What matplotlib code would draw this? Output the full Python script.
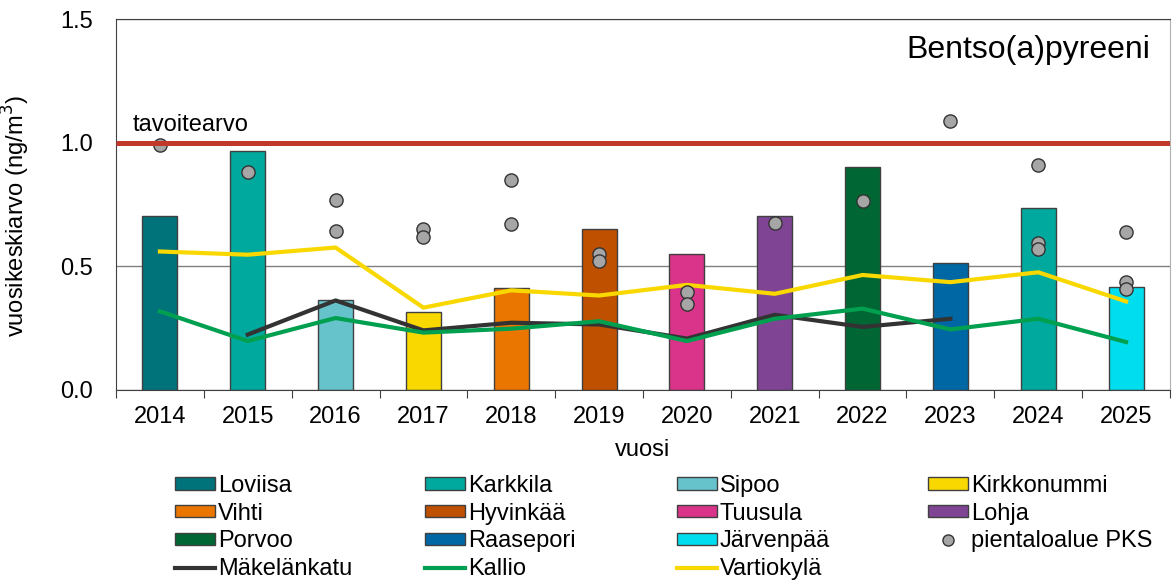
import numpy as np
import matplotlib.pyplot as plt
from matplotlib.patches import Patch
from matplotlib.lines import Line2D

plt.rcParams['font.family'] = ['Liberation Sans', 'DejaVu Sans']

years = ['2014', '2015', '2016', '2017', '2018', '2019', '2020', '2021', '2022', '2023', '2024', '2025']

# yearly mean at the rotating measurement site
bar_sites = ['Loviisa', 'Karkkila', 'Sipoo', 'Kirkkonummi', 'Vihti', 'Hyvinkää',
             'Tuusula', 'Lohja', 'Porvoo', 'Raasepori', 'Karkkila', 'Järvenpää']
bar_values = [0.704, 0.968, 0.362, 0.315, 0.413, 0.652, 0.551, 0.703, 0.901, 0.515, 0.737, 0.416]

site_colors = {
    'Loviisa': '#00727A', 'Karkkila': '#00A99D', 'Sipoo': '#66C2CB',
    'Kirkkonummi': '#F9D800', 'Vihti': '#EA7600', 'Hyvinkää': '#BE5000',
    'Tuusula': '#D9338A', 'Lohja': '#7F4594', 'Porvoo': '#006633',
    'Raasepori': '#0067A5', 'Järvenpää': '#00DDEE',
}

# detached house areas in the capital region (several per year)
pks_years = [2014, 2015, 2016, 2016, 2017, 2017, 2018, 2018, 2019, 2019, 2020, 2020,
             2021, 2022, 2023, 2024, 2024, 2024, 2025, 2025, 2025]
pks_values = [0.99, 0.881, 0.767, 0.644, 0.650, 0.617, 0.849, 0.672, 0.550, 0.523, 0.395, 0.349,
              0.677, 0.763, 1.087, 0.910, 0.593, 0.570, 0.637, 0.438, 0.407]

makelankatu = [np.nan, 0.224, 0.362, 0.241, 0.272, 0.265, 0.208, 0.304, 0.255, 0.288, np.nan, np.nan]
kallio = [0.318, 0.198, 0.291, 0.232, 0.248, 0.278, 0.198, 0.288, 0.329, 0.245, 0.288, 0.194]
vartiokyla = [0.560, 0.547, 0.576, 0.333, 0.403, 0.382, 0.425, 0.389, 0.465, 0.436, 0.476, 0.358]

target = 1.0
FS = 17

fig = plt.figure(figsize=(11.72, 5.8), dpi=100)
ax = fig.add_axes([116 / 1172, 1 - 390 / 580, 1054 / 1172, 371 / 580])

x = np.arange(len(years))
ax.bar(x, bar_values, width=0.4, color=[site_colors[s] for s in bar_sites],
       edgecolor='#404040', linewidth=1, zorder=2)

ax.plot(x, makelankatu, color='#333333', lw=3, zorder=3)
ax.plot(x, kallio, color='#00A050', lw=3, zorder=3)
ax.plot(x, vartiokyla, color='#F9D800', lw=3, zorder=3)

pks_x = [years.index(str(y)) for y in pks_years]
ax.plot(pks_x, pks_values, 'o', ms=9.5, mfc='#A6A6A6', mec='#333333', mew=1, zorder=4)

ax.plot([-0.5, 11.5], [target, target], color='#C0392B', lw=3.6, zorder=5, solid_capstyle='butt')
ax.text(-0.306, 1.046, 'tavoitearvo', fontsize=FS, va='baseline', ha='left')
ax.text(0.981, 0.895, 'Bentso(a)pyreeni', transform=ax.transAxes, fontsize=23,
        ha='right', va='baseline')

ax.set_xlim(-0.5, 11.5)
ax.set_ylim(0, 1.5)
ax.set_yticks([0, 0.5, 1.0, 1.5])
ax.set_yticklabels(['0.0', '0.5', '1.0', '1.5'], fontsize=FS)
ax.set_xticks(np.arange(-0.5, 12, 1))
ax.set_xticklabels([])
ax.set_xticks(x, minor=True)
ax.set_xticklabels(years, minor=True, fontsize=FS)
ax.tick_params(axis='x', which='major', length=6, color='#404040')
ax.tick_params(axis='x', which='minor', length=0, pad=11.5)
ax.tick_params(axis='y', length=0, pad=16.5)
ax.grid(axis='y', color='#808080', lw=1, zorder=0)
ax.set_axisbelow(True)
for side in ['left', 'bottom', 'top']:
    ax.spines[side].set_color('#404040')
ax.spines['right'].set_color('#B0B0B0')

ax.set_xlabel('vuosi', fontsize=FS)
ax.xaxis.set_label_coords(0.5, -0.132)
ax.set_ylabel('vuosikeskiarvo (ng/m$^3$)', fontsize=FS)
ax.yaxis.set_label_coords(-0.08, 0.47)


def bar_handle(name):
    return Patch(facecolor=site_colors[name], edgecolor='#404040', linewidth=1)


columns = [
    [(bar_handle('Loviisa'), 'Loviisa'), (bar_handle('Vihti'), 'Vihti'),
     (bar_handle('Porvoo'), 'Porvoo'),
     (Line2D([], [], color='#333333', lw=3), 'Mäkelänkatu')],
    [(bar_handle('Karkkila'), 'Karkkila'), (bar_handle('Hyvinkää'), 'Hyvinkää'),
     (bar_handle('Raasepori'), 'Raasepori'),
     (Line2D([], [], color='#00A050', lw=3), 'Kallio')],
    [(bar_handle('Sipoo'), 'Sipoo'), (bar_handle('Tuusula'), 'Tuusula'),
     (bar_handle('Järvenpää'), 'Järvenpää'),
     (Line2D([], [], color='#F9D800', lw=3), 'Vartiokylä')],
    [(bar_handle('Kirkkonummi'), 'Kirkkonummi'), (bar_handle('Lohja'), 'Lohja'),
     (Line2D([], [], ls='', marker='o', ms=8, mfc='#A6A6A6', mec='#333333'), 'pientaloalue PKS')],
]
col_x = [175, 425, 677, 928]
for cx, col in zip(col_x, columns):
    handles = [h for h, _ in col]
    labels = [l for _, l in col]
    fig.legend(handles, labels, loc='upper left', bbox_to_anchor=(cx / 1172, 1 - 475 / 580),
               frameon=False, fontsize=FS, handlelength=1.69, handleheight=0.42,
               handletextpad=0.13, labelspacing=0.24, borderpad=0, borderaxespad=0)

fig.savefig('out.png', dpi=100)
